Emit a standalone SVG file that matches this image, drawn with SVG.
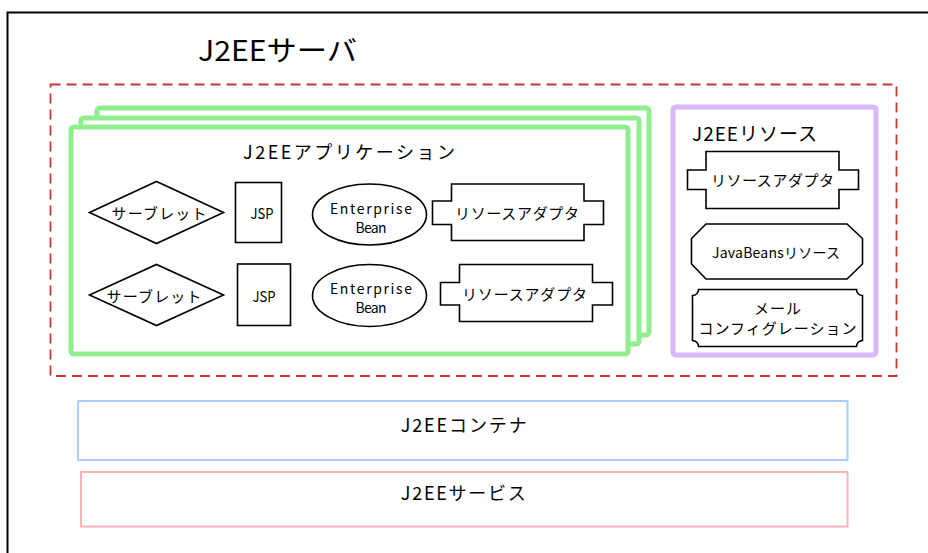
<svg xmlns="http://www.w3.org/2000/svg" width="928" height="553" viewBox="0 0 928 553">
  <style>
    text { font-family: "Noto Sans CJK JP", "DejaVu Sans", sans-serif; fill: #000; text-anchor: middle; dominant-baseline: central; }
    .shape { fill: #fff; stroke: #000; stroke-width: 1.6; }
    .app { fill: #fff; stroke: #90ee90; stroke-width: 5; }
    .res { fill: #fff; stroke: #d8b8fc; stroke-width: 5; }
    .t15 { font-size: 15px; }
    .t14 { font-size: 14px; }
    .ejb { font-size: 14px; }
  </style>

  <!-- J2EE server frame -->
  <g id="server">
    <rect x="7.5" y="12.5" width="960" height="600" fill="#fff" stroke="#000" stroke-width="2"/>
    <text x="277.5" y="49" font-size="28" textLength="159" lengthAdjust="spacingAndGlyphs">J2EEサーバ</text>
  </g>

  <!-- dashed boundary around applications and resources -->
  <g id="boundary">
    <rect x="50.5" y="84.5" width="846" height="291.5" fill="none" stroke="#cc3333" stroke-width="1.8" stroke-dasharray="10 6"/>
  </g>

  <!-- stacked J2EE applications -->
  <g id="application">
    <rect class="app" x="97" y="108" width="552" height="227" rx="3"/>
    <rect class="app" x="81" y="118" width="558" height="226" rx="3"/>
    <rect class="app" x="71" y="127" width="557" height="227" rx="3"/>
    <text x="349" y="150.5" font-size="18" textLength="212" lengthAdjust="spacing">J2EEアプリケーション</text>
  </g>

  <g id="servlet1">
    <polygon class="shape" points="89.5,212.5 156.5,181.5 223.5,212.5 156.5,243.5"/>
    <text class="t15" x="159" y="212" textLength="95" lengthAdjust="spacing">サーブレット</text>
  </g>
  <g id="servlet2">
    <polygon class="shape" points="89.5,295 156.5,264.5 223.5,295 156.5,325.5"/>
    <text class="t15" x="154" y="295" textLength="95" lengthAdjust="spacing">サーブレット</text>
  </g>

  <g id="jsp1">
    <rect class="shape" x="235.5" y="182.5" width="46" height="60"/>
    <text class="t15" x="262" y="212" textLength="23" lengthAdjust="spacingAndGlyphs">JSP</text>
  </g>
  <g id="jsp2">
    <rect class="shape" x="237.5" y="264" width="53" height="61.5"/>
    <text class="t15" x="264" y="295" textLength="23" lengthAdjust="spacingAndGlyphs">JSP</text>
  </g>

  <g id="ejb1">
    <ellipse class="shape" cx="369.5" cy="214.5" rx="57" ry="30.5"/>
    <text class="ejb" x="371" y="207.5" textLength="82" lengthAdjust="spacing">Enterprise</text>
    <text class="ejb" x="371" y="227" textLength="31" lengthAdjust="spacing">Bean</text>
  </g>
  <g id="ejb2">
    <ellipse class="shape" cx="369.5" cy="295.5" rx="57" ry="31"/>
    <text class="ejb" x="371" y="287.5" textLength="82" lengthAdjust="spacing">Enterprise</text>
    <text class="ejb" x="371" y="307" textLength="31" lengthAdjust="spacing">Bean</text>
  </g>

  <g id="adapter1">
    <path class="shape" d="M451.5,184 H584 V201 H603.5 V224.5 H584 V240.5 H451.5 V224.5 H432.5 V201 H451.5 Z"/>
    <text class="t15" x="517" y="212.5" textLength="124" lengthAdjust="spacing">リソースアダプタ</text>
  </g>
  <g id="adapter2">
    <path class="shape" d="M459.5,264.5 H592.5 V282.5 H612.5 V305 H592.5 V321.5 H459.5 V305 H440.5 V282.5 H459.5 Z"/>
    <text class="t15" x="524.5" y="293.5" textLength="125" lengthAdjust="spacing">リソースアダプタ</text>
  </g>

  <!-- J2EE resources -->
  <g id="resources">
    <rect class="res" x="673" y="107" width="203" height="248" rx="3"/>
    <text x="754.5" y="132" font-size="19" textLength="125" lengthAdjust="spacing">J2EEリソース</text>
  </g>

  <g id="adapter3">
    <path class="shape" d="M706,151.5 H839 V170 H858.5 V189.5 H839 V208.5 H706 V189.5 H687.5 V170 H706 Z"/>
    <text class="t15" x="772.5" y="179" textLength="123" lengthAdjust="spacing">リソースアダプタ</text>
  </g>

  <g id="javabeans">
    <polygon class="shape" points="706,224 847,224 862.5,238.5 862.5,264 847,279 706,279 691.5,264 691.5,238.5"/>
    <text class="t14" x="776" y="251.5" textLength="128" lengthAdjust="spacing">JavaBeansリソース</text>
  </g>

  <g id="mailconfig">
    <path class="shape" d="M698.5,289.5 H856.5 A6,6 0 0 0 862.5,295.5 V340.5 A6,6 0 0 0 856.5,346.5 H698.5 A6,6 0 0 0 692.5,340.5 V295.5 A6,6 0 0 0 698.5,289.5 Z"/>
    <text class="t15" x="777.5" y="307.5" textLength="47" lengthAdjust="spacing">メール</text>
    <text class="t15" x="777.5" y="327" textLength="158" lengthAdjust="spacing">コンフィグレーション</text>
  </g>

  <g id="container">
    <rect x="78" y="401" width="769.5" height="59" fill="#fff" stroke="#aacfff" stroke-width="2"/>
    <text x="463.7" y="423.5" font-size="18" textLength="126" lengthAdjust="spacing">J2EEコンテナ</text>
  </g>

  <g id="services">
    <rect x="81" y="472" width="766.5" height="54.5" fill="#fff" stroke="#ffb3b3" stroke-width="2"/>
    <text x="463.3" y="491.5" font-size="18" textLength="125" lengthAdjust="spacing">J2EEサービス</text>
  </g>

  <!-- no connectors in this diagram -->
  <g id="connectors"/>
</svg>
